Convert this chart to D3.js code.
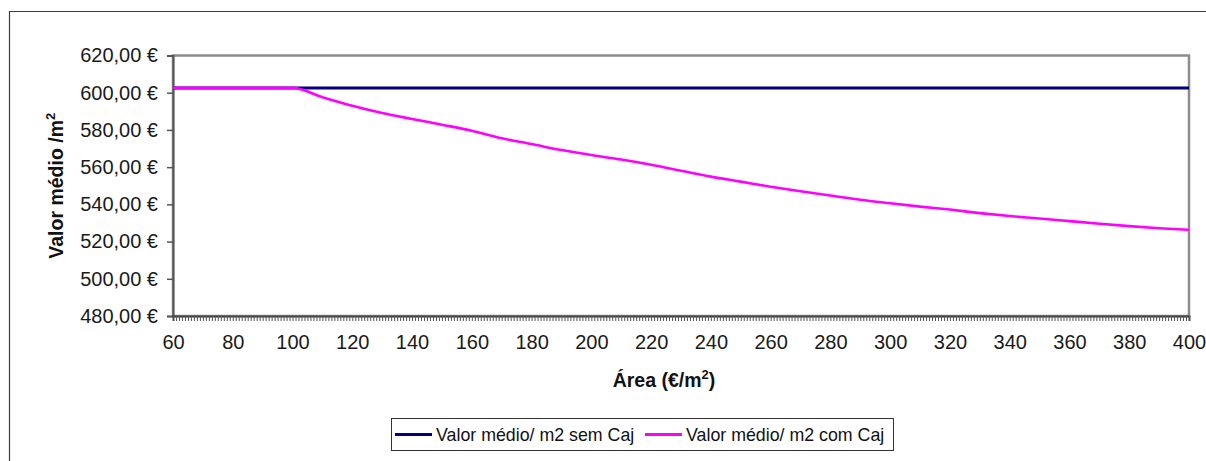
<!DOCTYPE html>
<html>
<head>
<meta charset="utf-8">
<script src="https://cdn.jsdelivr.net/npm/d3@7"></script>
<style>
  body { margin: 0; background: #fff; }
  svg { display: block; font-family: "Liberation Sans", Arial, sans-serif; }
</style>
</head>
<body>
<svg width="1206" height="461"></svg>
<script>
// data
const areas = [60, 70, 80, 90, 100, 110, 120, 130, 140, 150, 160, 170, 180, 190, 200, 210, 220, 230,
    240, 250, 260, 270, 280, 290, 300, 310, 320, 330, 340, 350, 360, 370, 380, 390, 400];
const semCaj = [602.6, 602.6, 602.6, 602.6, 602.6, 602.6, 602.6, 602.6, 602.6, 602.6, 602.6, 602.6,
    602.6, 602.6, 602.6, 602.6, 602.6, 602.6, 602.6, 602.6, 602.6, 602.6, 602.6, 602.6, 602.6, 602.6,
    602.6, 602.6, 602.6, 602.6, 602.6, 602.6, 602.6, 602.6, 602.6];
const comCaj = [602.6, 602.6, 602.6, 602.6, 602.6, 597.6, 593.0, 589.1, 585.9, 582.8, 579.6, 575.5,
    572.4, 569.2, 566.5, 564.1, 561.3, 558.1, 554.9, 552.2, 549.5, 547.0, 544.8, 542.5, 540.6, 538.8,
    537.2, 535.3, 533.7, 532.4, 531.0, 529.6, 528.3, 527.2, 526.3];
const seriesNames = ["Valor médio/ m2 sem Caj", "Valor médio/ m2 com Caj"];
const seriesColors = ["#000080", "#ff00ff"];
const xTicks = [60, 80, 100, 120, 140, 160, 180, 200, 220, 240, 260, 280, 300, 320, 340, 360, 380, 400];
const yTicks = [480, 500, 520, 540, 560, 580, 600, 620];

const svg = d3.select("svg");
const plot = { left: 173, right: 1189, top: 55.5, bottom: 316 };

const x = d3.scaleLinear().domain([60, 400]).range([plot.left, plot.right]);
const y = d3.scaleLinear().domain([480, 620]).range([plot.bottom, plot.top]);

const pt = d3.formatLocale({ decimal: ",", thousands: ".", grouping: [3], currency: ["", " €"] });
const fmtEuro = pt.format("$,.2f");

// outer chart frame (runs off the right / bottom edge)
svg.append("path")
    .attr("d", "M9.5,461 V11.5 H1206")
    .attr("fill", "none")
    .attr("stroke", "#3c3c3c")
    .attr("stroke-width", 1.2);

// plot area border
svg.append("rect")
    .attr("x", plot.left).attr("y", plot.top)
    .attr("width", plot.right - plot.left).attr("height", plot.bottom - plot.top)
    .attr("fill", "#fff")
    .attr("stroke", "#8c8c8c")
    .attr("stroke-width", 2.5);

// y axis
const yAxis = svg.append("g")
    .attr("transform", `translate(${plot.left},0)`)
    .call(d3.axisLeft(y).tickValues(yTicks).tickFormat(fmtEuro).tickSize(6).tickPadding(9));
yAxis.select(".domain").attr("stroke", "#555").attr("stroke-width", 2);
yAxis.selectAll(".tick line").attr("stroke", "#555").attr("stroke-width", 1.5);
yAxis.selectAll(".tick text").attr("font-size", 20).attr("fill", "#1a1a1a")
    .attr("font-family", "Liberation Sans, Arial, sans-serif");

// x axis: dense category ticks every unit, labels every 20
const xAxis = svg.append("g")
    .attr("transform", `translate(0,${plot.bottom})`)
    .call(d3.axisBottom(x).tickValues(d3.range(60, 401, 1)).tickSize(5).tickFormat(""));
xAxis.select(".domain").attr("stroke", "#444").attr("stroke-width", 2);
xAxis.selectAll(".tick line").attr("stroke", "#555").attr("stroke-width", 1);

const xLab = svg.append("g")
    .attr("transform", `translate(0,${plot.bottom})`)
    .call(d3.axisBottom(x).tickValues(xTicks).tickSize(0).tickPadding(19).tickFormat(d3.format("d")));
xLab.select(".domain").remove();
xLab.selectAll(".tick text").attr("font-size", 20).attr("fill", "#1a1a1a")
    .attr("font-family", "Liberation Sans, Arial, sans-serif");

// axis titles
const yt = svg.append("text")
    .attr("transform", `translate(63,${(plot.top + plot.bottom) / 2}) rotate(-90)`)
    .attr("text-anchor", "middle")
    .attr("font-size", 19.5)
    .attr("font-weight", "bold")
    .attr("fill", "#111");
yt.append("tspan").text("Valor médio /m");
yt.append("tspan").attr("font-size", 13).attr("dy", -8).text("2");

const xt = svg.append("text")
    .attr("x", 664).attr("y", 387)
    .attr("text-anchor", "middle")
    .attr("font-size", 19.5)
    .attr("font-weight", "bold")
    .attr("fill", "#111");
xt.append("tspan").text("Área (€/m");
xt.append("tspan").attr("font-size", 13).attr("dy", -8).text("2");
xt.append("tspan").attr("dy", 8).text(")");

// lines
const line = d3.line()
    .x((d, i) => x(areas[i]))
    .y((d) => y(d));

svg.append("path")
    .datum(semCaj)
    .attr("d", line)
    .attr("fill", "none")
    .attr("stroke", seriesColors[0])
    .attr("stroke-width", 3);

svg.append("path")
    .datum(comCaj)
    .attr("d", line.curve(d3.curveMonotoneX))
    .attr("fill", "none")
    .attr("stroke", seriesColors[1])
    .attr("stroke-width", 2.6);

// legend
const legend = svg.append("g");
legend.append("rect")
    .attr("x", 391.5).attr("y", 418.5)
    .attr("width", 502).attr("height", 32)
    .attr("fill", "#fff")
    .attr("stroke", "#333")
    .attr("stroke-width", 1);

const legX = [395, 645];
seriesNames.forEach((name, i) => {
    legend.append("line")
        .attr("x1", legX[i]).attr("x2", legX[i] + 37)
        .attr("y1", 434.5).attr("y2", 434.5)
        .attr("stroke", seriesColors[i])
        .attr("stroke-width", 3);
    legend.append("text")
        .attr("x", legX[i] + 41).attr("y", 434.5)
        .attr("dy", "0.35em")
        .attr("font-size", 17.8)
        .attr("fill", "#111")
        .text(name);
});
</script>
</body>
</html>
